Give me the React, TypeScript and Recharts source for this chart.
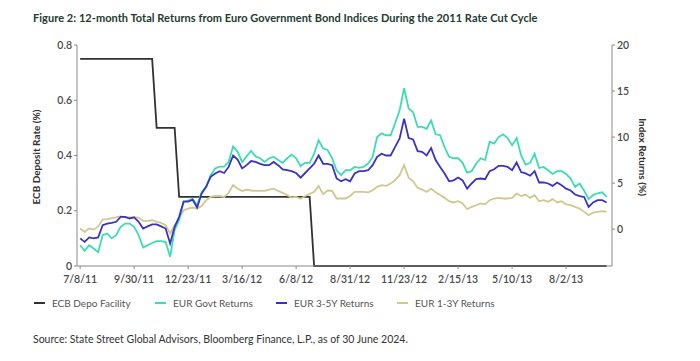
import { LineChart, Line, XAxis, YAxis } from "recharts"

// weekly observations starting 7/8/11 (week 0)
const tickWeeks = [0, 12, 24, 36, 48, 60, 72, 84, 96, 108]
const tickLabels = ["7/8/11", "9/30/11", "12/23/11", "3/16/12", "6/8/12", "8/31/12", "11/23/12", "2/15/13", "5/10/13", "8/2/13"]

// ECB deposit rate changes: week the new rate first shows, rate in %
const ecbChangeWeeks = [0, 17, 22, 52]
const ecbRates = [0.75, 0.5, 0.25, 0]

const govtReturns = [
  -1.74, -2.35, -1.74, -2.1, -2.5, -0.65, -0.47, -1.0, -0.65, 0.25, 0.6, 0.6, 0.25, -0.65, -2.0, -1.74, -1.5, -1.3, -1.3, -1.4,
  -3.0, -0.1, 1.0, 3.0, 3.1, 3.3, 2.6, 4.05, 4.6, 5.86, 6.6, 6.8, 6.8, 7.3, 9.0, 8.4, 7.3, 7.9, 8.5, 7.9,
  7.7, 7.3, 7.7, 7.85, 7.5, 7.2, 7.7, 8.1, 7.7, 6.85, 7.2, 7.2, 8.2, 9.66, 8.76, 8.6, 7.7, 6.4, 5.86, 6.4,
  6.4, 6.76, 6.65, 6.76, 7.13, 7.85, 10.0, 10.4, 10.2, 10.2, 11.5, 12.9, 15.3, 13.1, 12.7, 11.1, 11.1, 10.9, 11.8, 10.3,
  10.2, 8.9, 7.85, 7.7, 7.7, 7.2, 6.15, 6.3, 7.1, 7.7, 7.5, 9.5, 9.3, 10.0, 10.3, 9.9, 9.1, 9.9, 8.0, 7.0,
  7.2, 8.2, 6.65, 6.76, 6.4, 6.0, 6.3, 6.3, 6.0, 5.5, 4.6, 4.95, 4.2, 3.26, 3.7, 3.9, 4.0, 3.5,
]

const returns35 = [
  -1.0, -1.38, -0.9, -1.0, -0.9, 0.43, 0.6, 0.68, 0.8, 1.34, 1.34, 1.16, 1.27, 0.8, 0.07, 0.3, 0.52, 0.52, 0.3, 0.07,
  -1.55, 0.25, 1.34, 3.0, 3.0, 3.2, 2.35, 3.87, 4.6, 5.68, 6.05, 6.3, 6.1, 6.76, 8.0, 7.55, 6.6, 6.95, 7.4, 7.3,
  7.1, 6.95, 6.95, 7.3, 6.95, 6.5, 6.4, 6.3, 6.1, 5.6, 6.1, 6.6, 7.1, 8.0, 7.1, 7.1, 6.95, 5.5, 5.2, 5.43,
  5.2, 6.05, 6.3, 6.3, 6.4, 6.95, 7.85, 8.2, 8.0, 8.0, 8.94, 9.85, 12.0, 9.9, 9.75, 8.47, 8.4, 8.0, 8.8, 7.5,
  6.76, 6.05, 5.2, 5.3, 5.6, 5.3, 4.4, 4.96, 5.43, 5.5, 5.43, 6.3, 6.5, 6.87, 6.87, 6.76, 6.4, 7.24, 6.2, 6.05,
  5.8, 6.3, 5.07, 5.07, 4.96, 4.7, 5.07, 4.77, 4.4, 4.2, 3.76, 3.6, 3.5, 2.42, 2.9, 3.15, 3.15, 2.9,
]

const returns13 = [
  0.07, -0.3, 0.07, -0.05, 0.3, 1.05, 1.1, 1.2, 1.27, 1.41, 1.27, 1.27, 1.34, 1.23, 0.9, 0.9, 0.97, 0.8, 0.68, 0.43,
  -0.47, 0.43, 1.16, 2.06, 2.24, 2.35, 2.24, 2.5, 3.15, 3.5, 3.6, 3.6, 3.5, 3.95, 4.78, 4.4, 4.15, 4.3, 4.2, 4.15,
  4.15, 4.15, 4.3, 4.4, 4.15, 3.95, 3.7, 3.44, 3.5, 3.3, 3.6, 3.8, 4.05, 4.67, 3.8, 4.2, 4.15, 3.33, 3.33, 3.33,
  3.6, 4.05, 4.05, 4.05, 4.0, 4.23, 4.6, 4.78, 4.7, 4.95, 5.32, 5.86, 6.95, 5.6, 5.2, 4.5, 4.3, 4.05, 4.4, 4.0,
  3.7, 3.4, 3.04, 2.9, 3.04, 2.8, 2.17, 2.42, 2.6, 2.8, 2.7, 3.15, 3.33, 3.4, 3.33, 3.33, 3.4, 3.87, 3.6, 3.76,
  3.4, 3.7, 3.04, 3.15, 2.97, 3.26, 2.9, 3.04, 2.7, 2.6, 2.42, 2.24, 1.88, 1.52, 1.8, 1.88, 1.95, 1.88,
]

const ecbForWeek = (w: number) => {
  let rate = ecbRates[0]
  ecbChangeWeeks.forEach((cw, i) => {
    if (w >= cw) rate = ecbRates[i]
  })
  return rate
}

const data = govtReturns.map((g, i) => ({
  w: i,
  ecb: ecbForWeek(i),
  govt: g,
  r35: returns35[i],
  r13: returns13[i],
}))

const C_ECB = "#2e3331"
const C_GOVT = "#3cdcb4"
const C_35 = "#3b32c4"
const C_13 = "#d3c78e"
const FONT = "Lato, 'Open Sans', sans-serif"

const legendItems = [
  { name: "ECB Depo Facility", color: C_ECB, x: 34 },
  { name: "EUR Govt Returns", color: C_GOVT, x: 155 },
  { name: "EUR 3-5Y Returns", color: C_35, x: 276 },
  { name: "EUR 1-3Y Returns", color: C_13, x: 397 },
]

const tick = { fontSize: 10.5, fill: "#4a4a4a", fontWeight: 600, fontFamily: FONT }

export default function App() {
  return (
    <div style={{ position: "absolute", left: 0, top: 0, width: 700, height: 361, background: "#fff", fontFamily: FONT }}>
      <div style={{ position: "absolute", left: 33, top: 11, fontSize: 11, fontWeight: 700, color: "#243a30", whiteSpace: "nowrap", letterSpacing: 0.05 }}>
        Figure 2: 12-month Total Returns from Euro Government Bond Indices During the 2011 Rate Cut Cycle
      </div>
      <LineChart
        width={700}
        height={300}
        data={data}
        margin={{ top: 45, left: 37, right: 48, bottom: 4 }}
        style={{ position: "absolute", left: 0, top: 0 }}
      >
        <XAxis
          dataKey="w"
          type="number"
          domain={[-0.7, 118.2]}
          allowDataOverflow
          ticks={tickWeeks}
          tickFormatter={(v: number) => tickLabels[tickWeeks.indexOf(v)] ?? ""}
          tick={tick}
          tickSize={3}
          tickMargin={7}
          stroke="#8a8a8a"
          height={30}
        />
        <YAxis
          yAxisId="left"
          domain={[0, 0.8]}
          ticks={[0, 0.2, 0.4, 0.6, 0.8]}
          tickFormatter={(v: number) => (v === 0 ? "0" : String(v))}
          tick={tick}
          tickSize={3}
          stroke="#8a8a8a"
          width={40}
        />
        <YAxis
          yAxisId="right"
          orientation="right"
          domain={[-4, 20]}
          ticks={[0, 5, 10, 15, 20]}
          tick={tick}
          tickSize={3}
          stroke="#8a8a8a"
          width={40}
        />
        <Line yAxisId="left" dataKey="ecb" stroke={C_ECB} strokeWidth={1.8} dot={false} isAnimationActive={false} />
        <Line yAxisId="right" dataKey="r13" stroke={C_13} strokeWidth={1.8} dot={false} isAnimationActive={false} />
        <Line yAxisId="right" dataKey="govt" stroke={C_GOVT} strokeWidth={1.8} dot={false} isAnimationActive={false} />
        <Line yAxisId="right" dataKey="r35" stroke={C_35} strokeWidth={1.8} dot={false} isAnimationActive={false} />
      </LineChart>
      <div style={{ position: "absolute", left: 36, top: 157, transform: "translate(-50%, -50%) rotate(-90deg)", fontSize: 10, fontWeight: 700, color: "#333", whiteSpace: "nowrap" }}>
        ECB Deposit Rate (%)
      </div>
      <div style={{ position: "absolute", left: 643, top: 157, transform: "translate(-50%, -50%) rotate(90deg)", fontSize: 10, fontWeight: 700, color: "#333", whiteSpace: "nowrap" }}>
        Index Returns (%)
      </div>
      {legendItems.map((it) => (
        <div key={it.name} style={{ position: "absolute", left: it.x, top: 297, display: "flex", alignItems: "center", fontSize: 10, color: "#555", whiteSpace: "nowrap" }}>
          <span style={{ display: "inline-block", width: 11, height: 2, background: it.color, marginRight: 7 }} />
          {it.name}
        </div>
      ))}
      <div style={{ position: "absolute", left: 33, top: 333, fontSize: 10.5, color: "#333", whiteSpace: "nowrap" }}>
        Source: State Street Global Advisors, Bloomberg Finance, L.P., as of 30 June 2024.
      </div>
    </div>
  )
}
